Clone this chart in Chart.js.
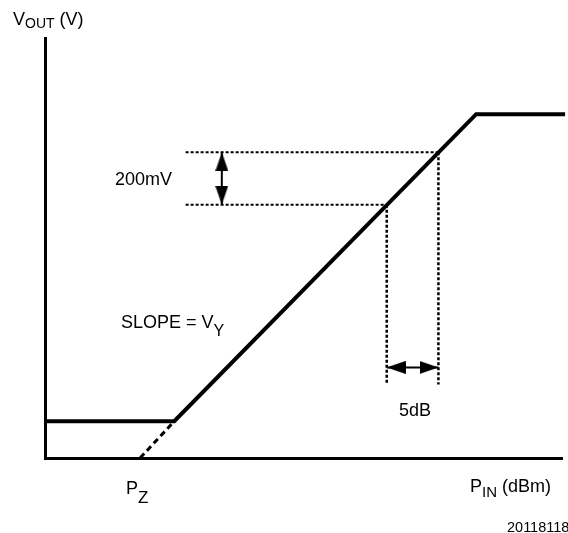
<!DOCTYPE html>
<html>
<head>
<meta charset="utf-8">
<script src="https://cdn.jsdelivr.net/npm/chart.js@4.4.1/dist/chart.umd.min.js"></script>
<style>
  html, body { margin: 0; padding: 0; background: #fff; }
  #wrap { position: relative; width: 568px; height: 533px; overflow: hidden; }
  #chart { position: absolute; left: 0; top: 0; }
  .lbl {
    position: absolute;
    font-family: "Liberation Sans", Arial, Helvetica, sans-serif;
    font-size: 18px;
    line-height: 18px;
    color: #000;
    white-space: nowrap;
  }
  .sub { position: relative; }
</style>
</head>
<body>
<div id="wrap">
  <canvas id="chart" width="568" height="533"></canvas>
  <div class="lbl" style="left:13px;top:10px">V<span class="sub" style="font-size:14px;top:3px">OUT</span> (V)</div>
  <div class="lbl" style="left:115px;top:170px">200mV</div>
  <div class="lbl" style="left:121px;top:313px">SLOPE = V<span class="sub" style="font-size:16px;top:8px">Y</span></div>
  <div class="lbl" style="left:399px;top:401px">5dB</div>
  <div class="lbl" style="left:126px;top:479px">P<span class="sub" style="font-size:17px;top:9px">Z</span></div>
  <div class="lbl" style="left:470px;top:477px">P<span class="sub" style="font-size:15px;top:5px">IN</span> (dBm)</div>
  <div class="lbl" style="left:507px;top:520px;font-size:14.5px;line-height:14.5px">20118118</div>
</div>
<script>
// axis ranges (P_IN in dBm, V_OUT in volts)
const PIN_RANGE = [-60, -10];
const VOUT_RANGE = [0, 1.6];

// transfer curve: floor, linear region, ceiling
const CURVE_PIN = [-60, -47.5, -18.3, -9.7];
const CURVE_VOUT = [0.14, 0.14, 1.31, 1.31];

// linear region extrapolated down to P_Z
const EXT_PIN = [-50.8, -47.5];
const EXT_VOUT = [0, 0.14];

// 200mV step and matching 5dB step
const STEP_VOUT = [0.965, 1.165];
const STEP_PIN = [-26.95, -21.95];
const GUIDE_LEFT_PIN = -46.4;
const GUIDE_BOTTOM_VOUT = 0.28;

// double arrows (head centres sit just inside the guide lines)
const ARROW_V_PIN = -42.9;
const ARROW_V_HEADS = [1.129, 1.001];
const ARROW_H_VOUT = 0.345;
const ARROW_H_HEADS = [-26.04, -22.86];

function pts(xs, ys) {
    return xs.map((x, i) => ({ x: x, y: ys[i] }));
}

// filled arrow head, pointing up before rotation
function arrowHead(w, h) {
    const c = document.createElement('canvas');
    c.width = w;
    c.height = h;
    const g = c.getContext('2d');
    g.fillStyle = '#000';
    g.beginPath();
    g.moveTo(w / 2, 0);
    g.lineTo(w, h);
    g.lineTo(0, h);
    g.closePath();
    g.fill();
    return c;
}
const HEAD = arrowHead(13, 19);

const solid = { showLine: true, borderColor: '#000', pointRadius: 0, fill: false, tension: 0, clip: false };
const dotted = { ...solid, borderDash: [3, 2] };

const datasets = [
    { ...solid, data: pts(CURVE_PIN, CURVE_VOUT), borderWidth: 4, borderJoinStyle: 'miter' },
    { // vertical arrow heads
        data: pts([ARROW_V_PIN, ARROW_V_PIN], ARROW_V_HEADS),
        showLine: false, pointStyle: HEAD, pointRadius: 5, pointRotation: [0, 180]
    },
    { // horizontal arrow heads
        data: pts(ARROW_H_HEADS, [ARROW_H_VOUT, ARROW_H_VOUT]),
        showLine: false, pointStyle: HEAD, pointRadius: 5, pointRotation: [270, 90]
    },
    { ...solid, data: pts([ARROW_V_PIN, ARROW_V_PIN], STEP_VOUT), borderWidth: 2 },
    { ...solid, data: pts(STEP_PIN, [ARROW_H_VOUT, ARROW_H_VOUT]), borderWidth: 2 },
    { ...solid, data: pts(EXT_PIN, EXT_VOUT), borderWidth: 3, borderDash: [6, 4] },
    { ...dotted, data: pts([GUIDE_LEFT_PIN, STEP_PIN[0]], [STEP_VOUT[0], STEP_VOUT[0]]), borderWidth: 2 },
    { ...dotted, data: pts([GUIDE_LEFT_PIN, STEP_PIN[1]], [STEP_VOUT[1], STEP_VOUT[1]]), borderWidth: 2 },
    { ...dotted, data: pts([STEP_PIN[0], STEP_PIN[0]], [STEP_VOUT[0], GUIDE_BOTTOM_VOUT]), borderWidth: 2.5 },
    { ...dotted, data: pts([STEP_PIN[1], STEP_PIN[1]], [STEP_VOUT[1], GUIDE_BOTTOM_VOUT]), borderWidth: 2.5 }
];

const axis = (range) => ({
    type: 'linear',
    min: range[0],
    max: range[1],
    ticks: { display: false },
    grid: { display: false, drawTicks: false },
    border: { display: true, color: '#000', width: 3 }
});

new Chart(document.getElementById('chart').getContext('2d'), {
    type: 'scatter',
    data: { datasets: datasets },
    options: {
        responsive: false,
        animation: false,
        events: [],
        layout: { padding: { left: 45, top: 38, right: 2, bottom: 75 } },
        plugins: { legend: { display: false }, tooltip: { enabled: false } },
        scales: { x: axis(PIN_RANGE), y: axis(VOUT_RANGE) }
    }
});
</script>
</body>
</html>
